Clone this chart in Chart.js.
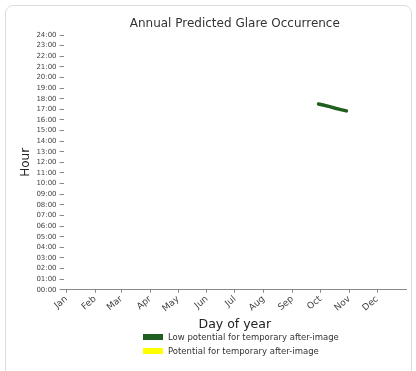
<!DOCTYPE html>
<html lang="en">
<head>
<meta charset="UTF-8">
<title>Annual Predicted Glare Occurrence</title>
<script src="https://cdn.jsdelivr.net/npm/chart.js"></script>
<style>
  body{margin:0;background:#fff;font-family:'DejaVu Sans',sans-serif;}
  .card{position:absolute;left:5px;top:5px;width:407px;height:372px;border:1px solid #dcdcdc;border-radius:8px;box-sizing:border-box;}
  .wrap{position:absolute;left:0;top:0;width:416px;height:332px;}
  #legend{position:absolute;left:143px;top:330px;font-size:8.5px;color:#333;}
  #legend div{display:flex;align-items:center;height:14px;}
  #legend span.sw{display:inline-block;width:20px;height:6px;margin-right:5px;}
</style>
</head>
<body>
<div class="card"></div>
<div class="wrap"><canvas id="c" width="416" height="332"></canvas></div>
<div id="legend"></div>
<script>
  // month ticks (day of year)
  const monthStarts = [1, 32, 60, 91, 121, 152, 182, 213, 244, 274, 305, 335];
  const monthLabels = ['Jan','Feb','Mar','Apr','May','Jun','Jul','Aug','Sep','Oct','Nov','Dec'];
  // low potential glare: day of year vs hour
  const lowDays  = [272, 278, 284, 290, 296, 302];
  const lowHours = [17.5, 17.38, 17.25, 17.1, 16.97, 16.85];
  // potential for after-image: none
  const highDays = [];
  const highHours = [];
  const seriesLabels = ['Low potential for temporary after-image', 'Potential for temporary after-image'];
  const seriesColors = ['#1e5e1e', '#ffff00'];

  const pad2 = n => (n < 10 ? '0' : '') + n;

  const titlePlugin = {
    id: 'centerTitle',
    afterDraw(chart) {
      const ctx = chart.ctx, a = chart.chartArea;
      ctx.save();
      ctx.font = '12px "DejaVu Sans"';
      ctx.fillStyle = '#333';
      ctx.textAlign = 'center';
      ctx.textBaseline = 'middle';
      ctx.fillText('Annual Predicted Glare Occurrence', (a.left + a.right) / 2, 24);
      ctx.restore();
    }
  };

  const chart = new Chart(document.getElementById('c'), {
    type: 'scatter',
    data: {
      datasets: [
        { label: seriesLabels[0], data: lowDays.map((d, i) => ({ x: d, y: lowHours[i] })), showLine: true, borderColor: seriesColors[0], backgroundColor: seriesColors[0], borderWidth: 3.5, pointRadius: 0, borderCapStyle: 'round' },
        { label: seriesLabels[1], data: highDays.map((d, i) => ({ x: d, y: highHours[i] })), showLine: true, borderColor: seriesColors[1], backgroundColor: seriesColors[1], borderWidth: 4, pointRadius: 0 }
      ]
    },
    options: {
      responsive: false,
      animation: false,
      layout: { padding: { top: 35, left: 12, right: 10, bottom: 0 } },
      plugins: { legend: { display: false }, tooltip: { enabled: false }, title: { display: false } },
      scales: {
        x: {
          type: 'linear', min: -2, max: 366,
          afterBuildTicks: s => { s.ticks = monthStarts.map(v => ({ value: v })); },
          ticks: { callback: v => monthLabels[monthStarts.indexOf(v)], minRotation: 40, maxRotation: 40, color: '#444', font: { size: 9, family: 'DejaVu Sans' }, padding: 1 },
          grid: { display: true, drawOnChartArea: false, tickLength: 3, color: '#888' },
          border: { display: true, color: '#888' },
          title: { display: true, text: 'Day of year', color: '#222', font: { size: 12.5, family: 'DejaVu Sans' }, padding: { top: 2, bottom: 0 } }
        },
        y: {
          min: 0, max: 24,
          ticks: { stepSize: 1, autoSkip: false, callback: v => pad2(v) + ':00', color: '#444', font: { size: 7, family: 'DejaVu Sans' }, padding: 3 },
          grid: { display: true, drawOnChartArea: false, tickLength: 4, color: '#888' },
          border: { display: false },
          title: { display: true, text: 'Hour', color: '#222', font: { size: 12, family: 'DejaVu Sans' }, padding: { top: 7, bottom: 0 } }
        }
      }
    },
    plugins: [titlePlugin]
  });

  const legendEl = document.getElementById('legend');
  chart.data.datasets.forEach(ds => {
    const row = document.createElement('div');
    row.innerHTML = '<span class="sw" style="background:' + ds.backgroundColor + '"></span>' + ds.label;
    legendEl.appendChild(row);
  });
</script>
</body>
</html>
